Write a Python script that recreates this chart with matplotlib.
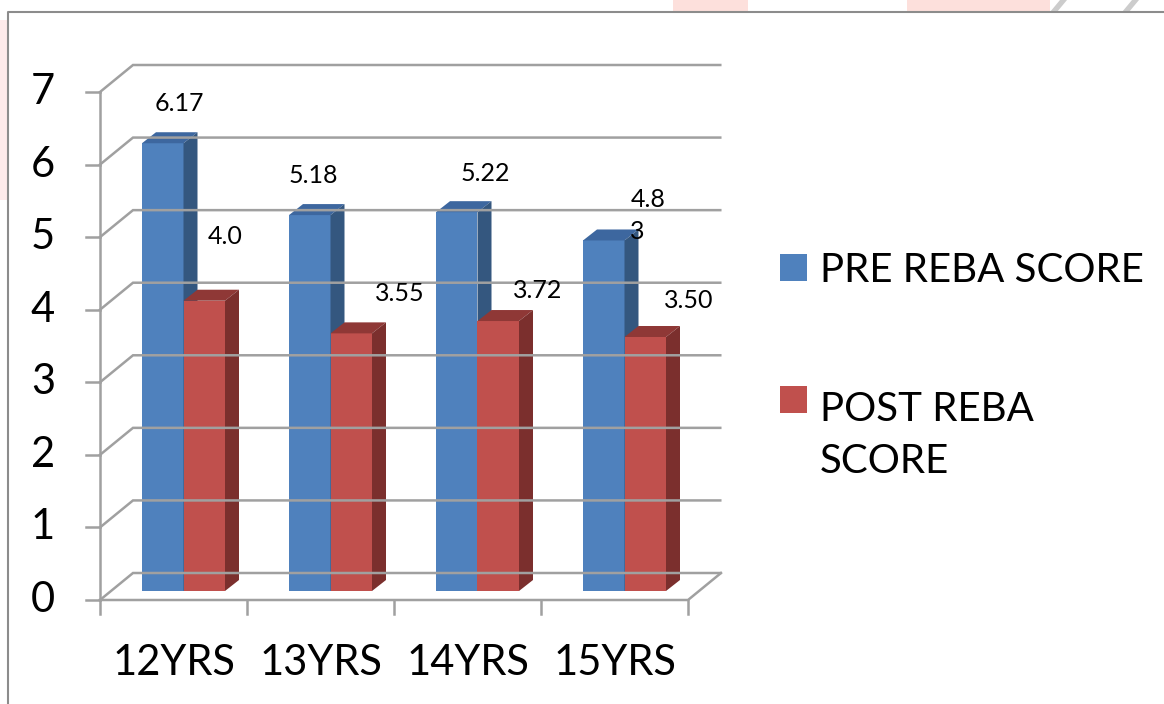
import matplotlib
matplotlib.use("Agg")
import matplotlib.pyplot as plt
from matplotlib.patches import Polygon, Rectangle
from matplotlib.lines import Line2D

# ---- data -------------------------------------------------------------
categories = ["12YRS", "13YRS", "14YRS", "15YRS"]
pre_scores = [6.17, 5.18, 5.22, 4.83]
post_scores = [4.0, 3.55, 3.72, 3.50]
pre_labels = ["6.17", "5.18", "5.22", "4.8\n3"]
post_labels = ["4.0", "3.55", "3.72", "3.50"]
y_ticks = [0, 1, 2, 3, 4, 5, 6, 7]
series_names = ["PRE REBA SCORE", "POST REBA\nSCORE"]

# ---- style ------------------------------------------------------------
FONT = "Lato"
W, H = 1164, 704
GRID = "#a0a0a0"
BLUE = ("#4f81bd", "#3d679f", "#34577f")     # front, top, side
RED = ("#c0504d", "#8f3836", "#7b2f2d")

# pixel scale of the front plane
PX_X = 147.0              # pixels per category
PX_Y = 508.0 / 7.0        # pixels per score unit

wall_dx, wall_dy = 33 / PX_X, 27 / PX_Y      # depth of back wall
bar_lift = 9 / PX_Y                           # bars stand mid-floor
depth_dx, depth_dy = 14 / PX_X, 11 / PX_Y     # bar depth
bar_x0 = 42 / PX_X
bar_w = 41.5 / PX_X

# label offsets (pixels) from the top of each bar
pre_offsets = [(10, 29), (-3, 29), (22, 28), (37, 14)]
post_offsets = [(14, 53), (42, 29), (32, 20), (36, 26)]

fig = plt.figure(figsize=(W / 100, H / 100), dpi=100)
fig.patch.set_facecolor("white")


def fx(px):
    return px / W


def fy(py):
    return 1 - py / H


# front plane of the chart: x 100..688 px, y 600..92 px
ax = fig.add_axes([fx(100), fy(600), fx(688) - fx(100), fy(92) - fy(600)])
ax.set_xlim(0, len(categories))
ax.set_ylim(0, 7)
ax.axis("off")

lw_grid = 1.8
n = len(categories)

# side wall diagonals and back-wall gridlines
for v in y_ticks:
    ax.add_line(Line2D([0, wall_dx, n + wall_dx - 0.005], [v, v + wall_dy, v + wall_dy],
                       color=GRID, lw=lw_grid, clip_on=False, solid_joinstyle="miter"))
    ax.add_line(Line2D([-14 / PX_X, 0], [v, v], color=GRID, lw=lw_grid, clip_on=False))

# floor outline
ax.add_line(Line2D([0, n, n + wall_dx], [0, 0, wall_dy], color=GRID, lw=lw_grid,
                   clip_on=False))
# value axis
ax.add_line(Line2D([0, 0], [0, 7], color=GRID, lw=lw_grid, clip_on=False))
# category ticks
for i in range(n + 1):
    ax.add_line(Line2D([i, i], [0, -14 / PX_Y], color=GRID, lw=lw_grid, clip_on=False))


def draw_bar(x0, value, colors):
    front, top, side = colors
    y0 = bar_lift
    y1 = value + bar_lift
    ax.add_patch(Rectangle((x0, y0), bar_w, value, facecolor=front, edgecolor="none",
                           clip_on=False))
    ax.add_patch(Polygon([(x0, y1), (x0 + bar_w, y1),
                          (x0 + bar_w + depth_dx, y1 + depth_dy),
                          (x0 + depth_dx, y1 + depth_dy)],
                         closed=True, facecolor=top, edgecolor="none", clip_on=False))
    ax.add_patch(Polygon([(x0 + bar_w, y0), (x0 + bar_w + depth_dx, y0 + depth_dy),
                          (x0 + bar_w + depth_dx, y1 + depth_dy), (x0 + bar_w, y1)],
                         closed=True, facecolor=side, edgecolor="none", clip_on=False))
    return x0 + (bar_w + depth_dx) / 2, y1 + depth_dy


for i in range(n):
    xb = i + bar_x0
    ax_pre = draw_bar(xb, pre_scores[i], BLUE)
    ax_post = draw_bar(xb + bar_w, post_scores[i], RED)
    for anchor, text, off in ((ax_pre, pre_labels[i], pre_offsets[i]),
                              (ax_post, post_labels[i], post_offsets[i])):
        ax.annotate(text, xy=anchor, xytext=off, textcoords="offset pixels",
                    ha="center", va="center", multialignment="left",
                    fontsize=18, family=FONT, color="black", linespacing=1.45,
                    annotation_clip=False)

# value tick labels
for v in y_ticks:
    ax.text(-57 / PX_X, v, str(v), ha="center", va="center", fontsize=30,
            family=FONT, color="black", clip_on=False)

# category labels
for i, c in enumerate(categories):
    ax.text(i + 0.5, -63 / PX_Y, c, ha="center", va="center", fontsize=30,
            family=FONT, color="black", clip_on=False)

# legend
fig.patches.append(Rectangle((fx(780), fy(281)), fx(807) - fx(780), fy(254) - fy(281),
                             transform=fig.transFigure, facecolor=BLUE[0], edgecolor="none"))
fig.patches.append(Rectangle((fx(780), fy(413)), fx(807) - fx(780), fy(386) - fy(413),
                             transform=fig.transFigure, facecolor=RED[0], edgecolor="none"))
fig.text(fx(820), fy(282), series_names[0], ha="left", va="baseline", fontsize=29,
         family=FONT, color="black")
fig.text(fx(820), fy(473), series_names[1], ha="left", va="baseline", fontsize=29,
         family=FONT, color="black", linespacing=1.5)

# chart border
fig.add_artist(Line2D([fx(8), fx(8), 1], [0, fy(12), fy(12)], transform=fig.transFigure,
                      color="#8c8c8c", lw=1.5))

# page decorations behind the chart frame
for x0, x1, y0, y1 in ((0, 8, 20, 200), (673, 748, 0, 12), (907, 1050, 0, 12)):
    fig.patches.append(Rectangle((fx(x0), fy(y1)), fx(x1) - fx(x0), fy(y0) - fy(y1),
                                 transform=fig.transFigure,
                                 facecolor="#fde0dc" if y0 == 0 else "#fdeaea",
                                 edgecolor="none"))
for xa in (1050, 1122):
    fig.patches.append(Polygon([(fx(xa), fy(12)), (fx(xa + 7), fy(12)),
                                (fx(xa + 17), fy(0)), (fx(xa + 10), fy(0))],
                               closed=True, transform=fig.transFigure,
                               facecolor="#cccccc", edgecolor="none"))

fig.savefig("out.png", dpi=100)
